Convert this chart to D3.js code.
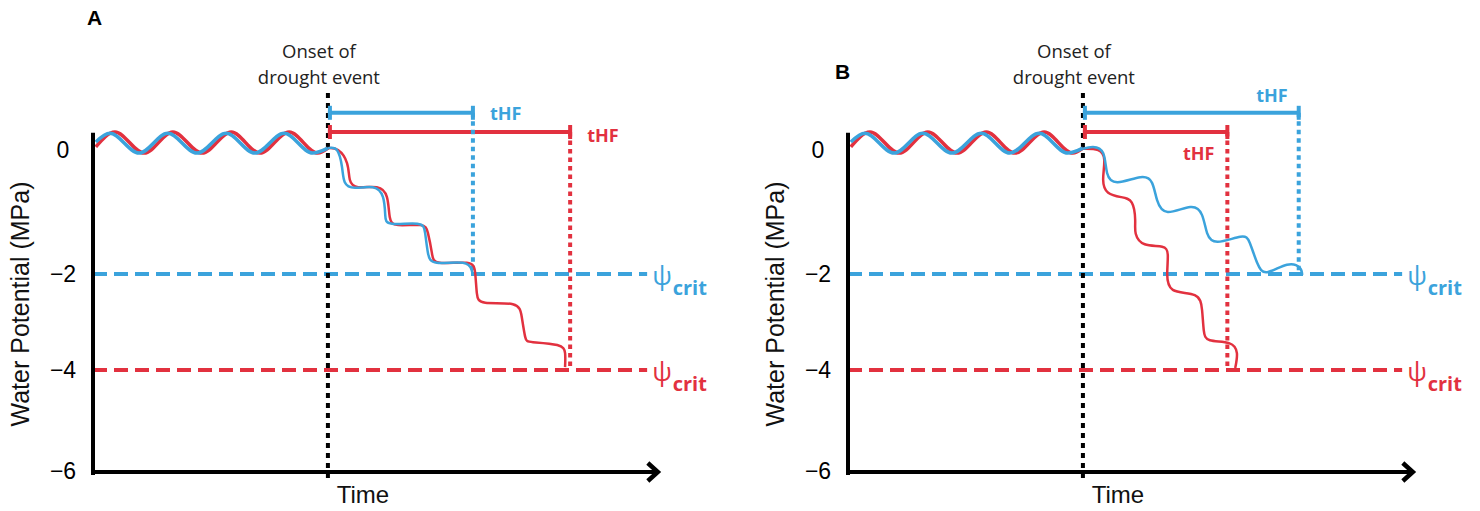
<!DOCTYPE html>
<html>
<head>
<meta charset="utf-8">
<script src="https://cdn.jsdelivr.net/npm/d3@7"></script>
<style>
body { margin: 0; background: #fff; }
</style>
</head>
<body>
<div id="chart"></div>
<script>
const BLUE = '#3ba3dc';
const RED = '#e2313f';

// y ticks (MPa) and critical potentials
const psiTicks = [0, -2, -4, -6];
const psiCritBlue = -2;
const psiCritRed = -4;
const onset = 4.18; // time of drought onset

// daily oscillation before drought: peaks and troughs (time, psi)
const preRed = [[0.05,0.05],[0.39,0.29],[0.91,-0.05],[1.42,0.29],[1.94,-0.05],[2.46,0.29],[2.97,-0.05],[3.49,0.29],[4.00,-0.05],[4.18,0.03]];
const preBlue = [[0.05,0.13],[0.30,0.27],[0.82,-0.05],[1.33,0.27],[1.85,-0.05],[2.37,0.27],[2.88,-0.05],[3.40,0.27],[3.91,-0.05],[4.18,0.03]];

// drought decline, panel A
const redA = [[4.18,0.03],[4.36,0],[4.52,-0.21],[4.57,-0.48],[4.72,-0.60],[5.05,-0.60],[5.23,-0.76],[5.28,-1.08],[5.43,-1.21],[5.82,-1.21],[5.96,-1.34],[6.03,-1.66],[6.17,-1.82],[6.65,-1.82],[6.80,-1.98],[6.83,-2.40],[6.98,-2.60],[7.47,-2.63],[7.63,-2.90],[7.69,-3.31],[7.83,-3.42],[8.26,-3.48],[8.40,-3.65],[8.40,-3.94]];
const blueA = [[4.18,0.03],[4.34,0],[4.43,-0.27],[4.48,-0.52],[4.66,-0.61],[4.98,-0.60],[5.16,-0.76],[5.20,-1.05],[5.32,-1.19],[5.77,-1.19],[5.91,-1.34],[5.96,-1.66],[6.12,-1.82],[6.58,-1.82],[6.74,-1.94],[6.76,-2.04]];

// drought decline, panel B
const redB = [[4.18,0.02],[4.45,0],[4.56,-0.16],[4.54,-0.48],[4.63,-0.69],[4.86,-0.76],[5.05,-0.85],[5.11,-1.13],[5.12,-1.35],[5.28,-1.52],[5.59,-1.56],[5.69,-1.69],[5.68,-1.98],[5.78,-2.33],[6.17,-2.44],[6.30,-2.75],[6.33,-3.17],[6.44,-3.38],[6.78,-3.44],[6.92,-3.65],[6.89,-3.96]];
const blueB = [[4.18,0.02],[4.36,0.05],[4.54,-0.05],[4.61,-0.37],[4.80,-0.52],[5.20,-0.44],[5.41,-0.53],[5.50,-0.81],[5.69,-1.00],[6.09,-0.92],[6.30,-1.05],[6.39,-1.34],[6.58,-1.48],[6.98,-1.40],[7.15,-1.50],[7.28,-1.82],[7.46,-1.97],[7.81,-1.85],[8.04,-1.90],[8.08,-2.02]];

// time to hydraulic failure (end time)
const thfA = { blue: 6.76, red: 8.49 };
const thfB = { blue: 8.02, red: 6.75 };
const barPsi = { blue: 0.60, red: 0.29 };

const width = 1480, height = 511;
const svg = d3.select('#chart').append('svg')
    .attr('width', width)
    .attr('height', height);

const x = d3.scaleLinear().domain([0, 10]).range([93, 655]);
const y = d3.scaleLinear().domain([-6, -4, -2, 0]).range([471, 370, 274, 150]);

// smooth sine-like daily cycle
const waveLine = d3.line()
    .x(d => x(d[0]))
    .y(d => y(d[1]))
    .curve(d3.curveMonotoneX);

// stepped decline
const dropLine = d3.line()
    .x(d => x(d[0]))
    .y(d => y(d[1]))
    .curve(d3.curveNatural);

const panels = [
    { name: 'A', dx: 0, lx: 87, ly: 25, red: redA, blue: blueA, thf: thfA,
      blueLab: { dx: 17, dy: 7, anchor: 'start' }, redLab: { dx: 17, dy: 10, anchor: 'start' } },
    { name: 'B', dx: 755, lx: 80, ly: 79, red: redB, blue: blueB, thf: thfB,
      blueLab: { dx: -11, dy: -11, anchor: 'end' }, redLab: { dx: -13, dy: 28, anchor: 'end' } }
];

panels.forEach(p => {
    const g = svg.append('g').attr('transform', 'translate(' + p.dx + ',0)');

    // panel letter
    g.append('text')
        .attr('x', p.lx).attr('y', p.ly)
        .attr('font-family', 'Liberation Sans, Arial, sans-serif')
        .attr('font-weight', 'bold')
        .attr('font-size', '21px')
        .text(p.name);

    // critical potential lines
    [[psiCritBlue, BLUE], [psiCritRed, RED]].forEach(c => {
        g.append('line')
            .attr('x1', x(0)).attr('x2', x(9.86))
            .attr('y1', y(c[0])).attr('y2', y(c[0]))
            .attr('stroke', c[1])
            .attr('stroke-width', 4)
            .attr('stroke-dasharray', '14,7');
        const t = g.append('text')
            .attr('x', x(9.86) + 5)
            .attr('y', y(c[0]) + 11)
            .attr('fill', c[1])
            .attr('font-family', 'Open Sans, sans-serif');
        t.append('tspan').attr('font-size', '26px').text('ψ');
        t.append('tspan').attr('font-size', '20px').attr('font-weight', 'bold')
            .attr('dy', 10).attr('dx', 1).text('crit');
    });

    // onset line
    g.append('line')
        .attr('x1', x(onset)).attr('x2', x(onset))
        .attr('y1', 93).attr('y2', y(-6) + 8)
        .attr('stroke', '#000')
        .attr('stroke-width', 4)
        .attr('stroke-dasharray', '5,5');

    g.append('text')
        .attr('x', x(onset) - 9)
        .attr('text-anchor', 'middle')
        .attr('font-family', 'Open Sans, sans-serif')
        .attr('font-size', '18.5px')
        .attr('fill', '#222')
        .selectAll('tspan')
        .data(['Onset of', 'drought event'])
        .enter().append('tspan')
        .attr('x', x(onset) - 9)
        .attr('y', (d, i) => 58 + i * 26)
        .text(d => d);

    // tHF bars
    [['red', RED, p.redLab, psiCritRed], ['blue', BLUE, p.blueLab, psiCritBlue]].forEach(s => {
        const key = s[0], col = s[1], lab = s[2];
        const by = y(barPsi[key]);
        const xe = x(p.thf[key]);
        g.append('line')
            .attr('x1', xe).attr('x2', xe)
            .attr('y1', by).attr('y2', y(s[3]))
            .attr('stroke', col)
            .attr('stroke-width', 4)
            .attr('stroke-dasharray', '4.5,4');
        g.append('line')
            .attr('x1', x(onset)).attr('x2', xe)
            .attr('y1', by).attr('y2', by)
            .attr('stroke', col).attr('stroke-width', 4);
        [x(onset) + 2, xe].forEach(cx => {
            g.append('line')
                .attr('x1', cx).attr('x2', cx)
                .attr('y1', by - 7).attr('y2', by + 7)
                .attr('stroke', col).attr('stroke-width', 4);
        });
        g.append('text')
            .attr('x', xe + lab.dx)
            .attr('y', by + lab.dy)
            .attr('text-anchor', lab.anchor)
            .attr('fill', col)
            .attr('font-family', 'Open Sans, sans-serif')
            .attr('font-weight', 'bold')
            .attr('font-size', '18px')
            .text('tHF');
    });

    // water potential traces
    g.append('path').datum(preRed).attr('d', waveLine)
        .attr('fill', 'none').attr('stroke', RED).attr('stroke-width', 3.5);
    g.append('path').datum(preBlue).attr('d', waveLine)
        .attr('fill', 'none').attr('stroke', BLUE).attr('stroke-width', 3.5);
    g.append('path').datum(p.red).attr('d', dropLine)
        .attr('fill', 'none').attr('stroke', RED).attr('stroke-width', 2.5);
    g.append('path').datum(p.blue).attr('d', dropLine)
        .attr('fill', 'none').attr('stroke', BLUE).attr('stroke-width', 2.5);

    // axes
    g.append('line')
        .attr('x1', x(0)).attr('x2', x(0))
        .attr('y1', y(0.28)).attr('y2', y(-6) + 4)
        .attr('stroke', '#000').attr('stroke-width', 4);
    g.append('line')
        .attr('x1', x(0) - 2).attr('x2', x(10.05))
        .attr('y1', y(-6) + 1).attr('y2', y(-6) + 1)
        .attr('stroke', '#000').attr('stroke-width', 4);
    g.append('path')
        .attr('d', 'M' + (x(10.05) - 10) + ',' + (y(-6) - 8) + 'L' + x(10.05) + ',' + (y(-6) + 1) + 'L' + (x(10.05) - 10) + ',' + (y(-6) + 10))
        .attr('fill', 'none')
        .attr('stroke', '#000').attr('stroke-width', 4.5)
        .attr('stroke-linejoin', 'miter');

    g.selectAll('.tick')
        .data(psiTicks)
        .enter().append('text')
        .attr('x', 63)
        .attr('y', d => y(d) + 8)
        .attr('text-anchor', 'middle')
        .attr('font-family', 'Liberation Sans, Arial, sans-serif')
        .attr('font-size', '23px')
        .text(d => d === 0 ? '0' : '\u2212' + Math.abs(d));

    g.append('text')
        .attr('transform', 'translate(29,304) rotate(-90)')
        .attr('text-anchor', 'middle')
        .attr('font-family', 'Liberation Sans, Arial, sans-serif')
        .attr('font-size', '25px')
        .attr('fill', '#111')
        .text('Water Potential (MPa)');

    g.append('text')
        .attr('x', 363).attr('y', 503)
        .attr('text-anchor', 'middle')
        .attr('font-family', 'Liberation Sans, Arial, sans-serif')
        .attr('font-size', '24px')
        .attr('fill', '#111')
        .text('Time');
});
</script>
</body>
</html>
